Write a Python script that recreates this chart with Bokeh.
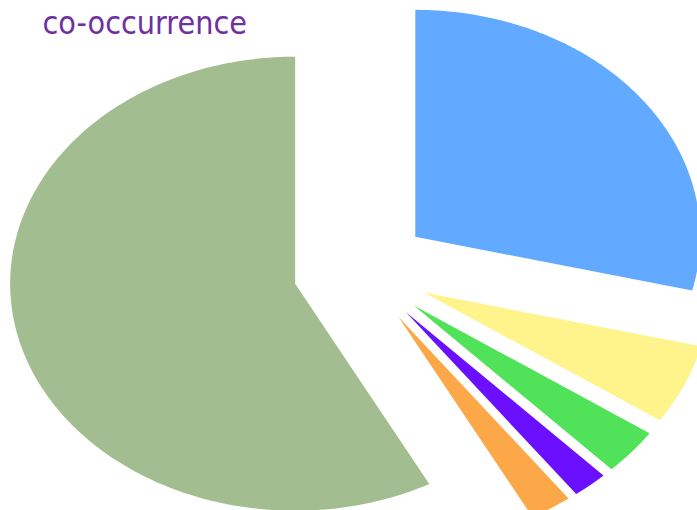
import numpy as np
from bokeh.plotting import figure
from bokeh.models import Label, Range1d, ColumnDataSource
from bokeh.embed import file_html
from bokeh.resources import INLINE

# Data (clockwise from 12 o'clock)
categories = ["A", "B", "C", "D", "E", "F"]
values = [28.8, 5.7, 3.3, 2.0, 2.4, 57.8]
colors = ["#62AAFF", "#FFF48C", "#50E258", "#6A0FFF", "#FCA848", "#A2BD8F"]
title_text = "co-occurrence"

W, H = 697, 510
RX, RY = 285.0, 227.0        # pixel size of one data unit along x / y
CX, CY = 361.0, 240.0        # pie centre in pixels (from left / from bottom)
EXPLODE = 0.24

p = figure(width=W, height=H, output_backend="svg", toolbar_location=None,
           min_border=0, x_range=Range1d(-CX / RX, (W - CX) / RX),
           y_range=Range1d(-CY / RY, (H - CY) / RY))
p.axis.visible = False
p.grid.visible = False
p.outline_line_color = None
p.background_fill_color = "white"
p.border_fill_color = "white"

vals = np.array(values, dtype=float)
fr = vals / vals.sum()
ends = np.pi / 2 - 2 * np.pi * np.cumsum(fr)
starts = np.concatenate([[np.pi / 2], ends[:-1]])

xs, ys = [], []
for a0, a1 in zip(starts, ends):
    mid = (a0 + a1) / 2
    ox, oy = EXPLODE * np.cos(mid), EXPLODE * np.sin(mid)
    t = np.linspace(a0, a1, 200)
    xs.append(list(np.concatenate([[ox], ox + np.cos(t)])))
    ys.append(list(np.concatenate([[oy], oy + np.sin(t)])))

src = ColumnDataSource(dict(xs=xs, ys=ys, color=colors, cat=categories))
p.patches("xs", "ys", source=src, fill_color="color", line_color=None)

lab = Label(x=42, y=H - 22.5, x_units="screen", y_units="screen",
            text=title_text, text_color="#7030A0",
            text_font="DejaVu Sans Condensed", text_font_size="32px",
            text_baseline="alphabetic", text_align="left")
p.add_layout(lab)

open("out.html", "w").write(file_html(p, INLINE))
